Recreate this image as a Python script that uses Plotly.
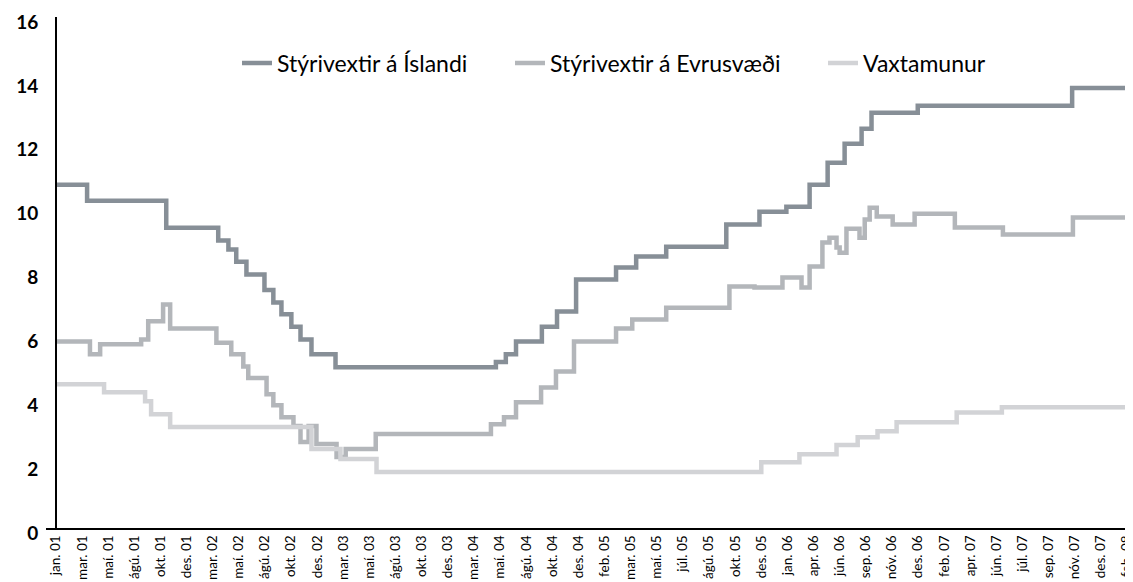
import plotly.graph_objects as go

# Category tick labels (evenly spaced along the axis)
tick_labels = [
    "jan. 01", "mar. 01", "maí. 01", "ágú. 01", "okt. 01", "des. 01",
    "mar. 02", "maí. 02", "ágú. 02", "okt. 02", "des. 02",
    "mar. 03", "maí. 03", "ágú. 03", "okt. 03", "des. 03",
    "mar. 04", "maí. 04", "ágú. 04", "okt. 04", "des. 04",
    "feb. 05", "mar. 05", "maí. 05", "júl. 05", "ágú. 05", "okt. 05", "des. 05",
    "jan. 06", "apr. 06", "jún. 06", "sep. 06", "nóv. 06", "des. 06",
    "feb. 07", "apr. 07", "jún. 07", "júl. 07", "sep. 07", "nóv. 07", "des. 07",
    "feb. 08",
]

# Step series: position along category axis (in label-index units) and value from that point on
iceland_pos = [0, 1.19, 4.22, 6.21, 6.60, 6.90, 7.29, 7.98, 8.32, 8.63, 9.01, 9.36, 9.78, 10.70,
               16.84, 17.22, 17.61, 18.60, 19.18, 19.91, 21.44, 22.21, 23.36, 25.66, 26.93,
               27.96, 28.85, 29.54, 30.19, 30.84, 31.22, 32.99, 38.90, 41.23]
iceland_val = [10.75, 10.25, 9.4, 9.0, 8.72, 8.34, 7.94, 7.45, 7.06, 6.69, 6.3, 5.9, 5.44, 5.03,
               5.2, 5.44, 5.84, 6.3, 6.78, 7.78, 8.16, 8.5, 8.81, 9.5, 9.9,
               10.06, 10.75, 11.44, 12.03, 12.5, 13.0, 13.22, 13.78, 13.78]

euro_pos = [0, 1.30, 1.69, 3.26, 3.53, 4.10, 4.37, 6.14, 6.71, 7.17, 7.36, 8.06, 8.32, 8.63,
            9.09, 9.36, 9.67, 9.97, 10.74, 11.09, 12.24, 16.65, 17.15, 17.61, 18.57, 19.14,
            19.83, 21.44, 22.06, 23.36, 25.78, 26.74, 27.81, 28.54, 28.85, 29.34, 29.61,
            29.88, 30.00, 30.26, 30.76, 30.96, 31.15, 31.42, 32.03, 32.87, 34.41, 36.25,
            38.93, 41.23]
euro_val = [5.84, 5.44, 5.75, 5.9, 6.47, 7.0, 6.25, 5.8, 5.44, 5.06, 4.7, 4.19, 3.84, 3.47,
            3.19, 2.69, 3.19, 2.63, 2.22, 2.47, 2.94, 3.25, 3.47, 3.94, 4.4, 4.9,
            5.84, 6.25, 6.53, 6.9, 7.56, 7.53, 7.84, 7.53, 8.19, 8.94, 9.09,
            8.78, 8.62, 9.37, 9.09, 9.66, 10.03, 9.75, 9.5, 9.84, 9.41, 9.19,
            9.72, 9.72]

spread_pos = [0, 1.84, 3.41, 3.64, 4.37, 9.78, 10.89, 12.27, 27.0, 28.46, 29.88, 30.69,
              31.45, 32.18, 34.48, 36.21, 41.23]
spread_val = [4.5, 4.25, 3.97, 3.56, 3.16, 2.47, 2.16, 1.75, 2.06, 2.31, 2.6, 2.84,
              3.03, 3.31, 3.62, 3.78, 3.78]

series_names = ["Stýrivextir á Íslandi", "Stýrivextir á Evrusvæði", "Vaxtamunur"]
colors = ["#878f97", "#b3b6ba", "#d2d3d6"]
legend_ids = ["legend", "legend2", "legend3"]

x_start, x_end = -0.383, 41.23
yaxis_pos = (0 - x_start) / (x_end - x_start)

fig = go.Figure()
for name, xs, ys, c, lg in [
    (series_names[0], iceland_pos, iceland_val, colors[0], legend_ids[0]),
    (series_names[1], euro_pos, euro_val, colors[1], legend_ids[1]),
    (series_names[2], spread_pos, spread_val, colors[2], legend_ids[2]),
]:
    fig.add_trace(go.Scatter(x=xs, y=ys, mode="lines", name=name, legend=lg,
                             line=dict(color=c, width=4.5, shape="hv")))

legend_style = dict(orientation="h", y=0.91, xanchor="left", yanchor="middle",
                    font=dict(size=23, family="Lato, sans-serif", color="black"),
                    bgcolor="rgba(255,255,255,0)", borderwidth=0)
# legend box left edges in screen px -> paper fraction of plot area (46..1133)
legend_px = [237, 510, 823]
legend_x = [(p - 46) / (1133 - 46) for p in legend_px]

# The page body has an 8px default margin; margins compensate so the plot area
# sits at x 46..1133, y 17..528 in the screenshot.
fig.update_layout(
    width=1133, height=582,
    margin=dict(l=38, r=8, t=9, b=62),
    plot_bgcolor="white", paper_bgcolor="white",
    font=dict(family="Lato, 'DejaVu Sans', sans-serif", color="black"),
    showlegend=True,
    legend=dict(x=legend_x[0], **legend_style),
    legend2=dict(x=legend_x[1], **legend_style),
    legend3=dict(x=legend_x[2], **legend_style),
)
fig.update_xaxes(
    range=[x_start, x_end],
    tickmode="array", tickvals=list(range(len(tick_labels))), ticktext=tick_labels,
    tickangle=-90, tickfont=dict(size=13.5, family="Lato, sans-serif", color="black"),
    showgrid=False, zeroline=False, showline=True, linecolor="black", linewidth=2,
    ticks="", automargin=False,
)
fig.update_yaxes(
    range=[0, 16], tickmode="linear", tick0=0, dtick=2,
    anchor="free", position=yaxis_pos,
    tickfont=dict(size=19, family="Lato, sans-serif", color="black", weight="bold"),
    showgrid=False, zeroline=False, showline=True, linecolor="black", linewidth=2,
    ticks="", ticklabelstandoff=13, ticklabelshift=5, automargin=False,
)

fig.write_html("out.html")
